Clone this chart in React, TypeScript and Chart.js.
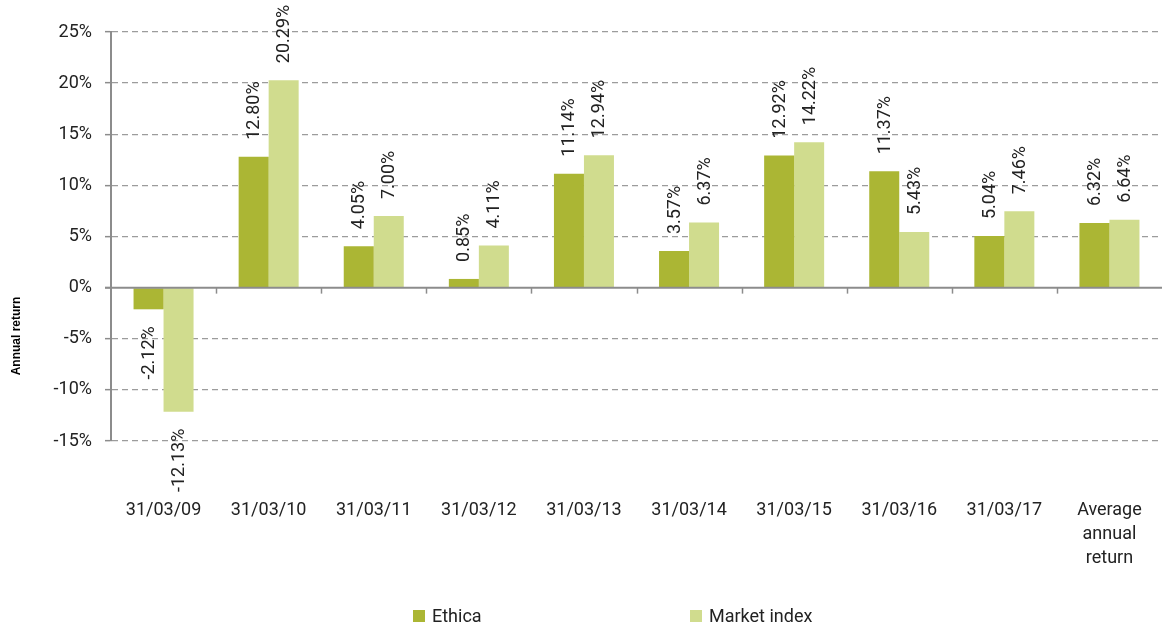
import React, { useEffect, useRef } from "react";
import { Chart, registerables } from "chart.js";

Chart.register(...registerables);

const categories: (string | string[])[] = [
  "31/03/09",
  "31/03/10",
  "31/03/11",
  "31/03/12",
  "31/03/13",
  "31/03/14",
  "31/03/15",
  "31/03/16",
  "31/03/17",
  ["Average", "annual", "return"],
];
const ethica = [-2.12, 12.8, 4.05, 0.85, 11.14, 3.57, 12.92, 11.37, 5.04, 6.32];
const marketIndex = [-12.13, 20.29, 7.0, 4.11, 12.94, 6.37, 14.22, 5.43, 7.46, 6.64];
const seriesNames = ["Ethica", "Market index"];
const seriesColors = ["#abb634", "#d0dc8e"];
const yMin = -15;
const yMax = 25;
const yStep = 5;
const axisTitle = "Annual return";

const FONT = "Roboto, 'Noto Sans', sans-serif";
const TEXT = "#222222";
const GRID = "#9c9c9c";
const AXIS = "#8c8c8c";

const decorPlugin = {
  id: "decor",
  afterDatasetsDraw(chart: any) {
    const { ctx, chartArea, scales } = chart;
    const y = scales.y;
    const y0 = y.getPixelForValue(0);
    ctx.save();
    // zero line
    ctx.strokeStyle = AXIS;
    ctx.lineWidth = 2;
    ctx.setLineDash([]);
    ctx.beginPath();
    ctx.moveTo(chartArea.left - 6, y0);
    ctx.lineTo(chartArea.right, y0);
    ctx.stroke();
    // category boundary ticks on zero line
    const n = categories.length;
    const w = (chartArea.right - chartArea.left) / n;
    ctx.lineWidth = 1.5;
    for (let i = 1; i < n; i++) {
      const px = Math.round(chartArea.left + i * w) + 0.5;
      ctx.beginPath();
      ctx.moveTo(px, y0);
      ctx.lineTo(px, y0 + 6);
      ctx.stroke();
    }
    // data labels
    ctx.font = `18px ${FONT}`;
    ctx.fillStyle = TEXT;
    ctx.textBaseline = "middle";
    chart.data.datasets.forEach((ds: any, di: number) => {
      const meta = chart.getDatasetMeta(di);
      meta.data.forEach((el: any, i: number) => {
        const v = ds.data[i];
        const txt = v.toFixed(2) + "%";
        ctx.save();
        if (v >= 0) {
          ctx.translate(el.x, el.y - 17);
          ctx.rotate(-Math.PI / 2);
          ctx.textAlign = "left";
        } else {
          ctx.translate(el.x, el.y + 17);
          ctx.rotate(-Math.PI / 2);
          ctx.textAlign = "right";
        }
        ctx.fillText(txt, 0, 1);
        ctx.restore();
      });
    });
    ctx.restore();
  },
  afterDraw(chart: any) {
    const { ctx } = chart;
    ctx.save();
    // axis title
    ctx.font = `bold 12px 'Liberation Sans', Arial, sans-serif`;
    ctx.fillStyle = "#000";
    ctx.textAlign = "center";
    ctx.textBaseline = "middle";
    ctx.translate(17, 336);
    ctx.rotate(-Math.PI / 2);
    ctx.fillText(axisTitle, 0, 0);
    ctx.restore();
    // legend
    ctx.save();
    ctx.font = `18px ${FONT}`;
    ctx.textBaseline = "middle";
    ctx.textAlign = "left";
    const legendX = [413, 690];
    const legendY = 616;
    seriesNames.forEach((name, i) => {
      ctx.fillStyle = seriesColors[i];
      ctx.fillRect(legendX[i], legendY - 6, 12, 12);
      ctx.fillStyle = TEXT;
      ctx.fillText(name, legendX[i] + 19, legendY + 1);
    });
    ctx.restore();
  },
};

export default function App() {
  const canvasRef = useRef<HTMLCanvasElement | null>(null);

  useEffect(() => {
    let chart: Chart | null = null;
    let cancelled = false;
    const make = () => {
      if (cancelled || !canvasRef.current) return;
      chart = new Chart(canvasRef.current, {
        type: "bar",
        data: {
          labels: categories as any,
          datasets: [
            {
              label: seriesNames[0],
              data: ethica,
              backgroundColor: seriesColors[0],
              borderWidth: 0,
              categoryPercentage: 0.571,
              barPercentage: 1,
            },
            {
              label: seriesNames[1],
              data: marketIndex,
              backgroundColor: seriesColors[1],
              borderWidth: 0,
              categoryPercentage: 0.571,
              barPercentage: 1,
            },
          ],
        },
        options: {
          animation: false,
          responsive: true,
          maintainAspectRatio: false,
          layout: { padding: { top: 32, right: 0, bottom: 0, left: 0 } },
          plugins: {
            legend: { display: false },
            tooltip: { enabled: false },
            title: { display: false },
          },
          scales: {
            x: {
              offset: true,
              grid: { display: false, drawTicks: true, tickLength: 58 },
              border: { display: false },
              ticks: {
                color: TEXT,
                font: { family: FONT, size: 18, lineHeight: 1.32 },
                padding: 0,
                maxRotation: 0,
                autoSkip: false,
              },
              afterFit: (s: any) => {
                s.height = 185;
                s.paddingLeft = 0;
                s.paddingRight = 0;
              },
            },
            y: {
              min: yMin,
              max: yMax,
              ticks: {
                stepSize: yStep,
                color: TEXT,
                font: { family: FONT, size: 18 },
                padding: 13,
                callback: (v: any) => `${v}%`,
              },
              grid: {
                color: (c: any) => (c.tick && c.tick.value === 0 ? "rgba(0,0,0,0)" : GRID),
                lineWidth: 1.3,
                tickLength: 6,
                tickColor: AXIS,
                tickWidth: 1.5,
              },
              border: { display: true, color: AXIS, width: 2, dash: [6, 4] },
              afterFit: (s: any) => {
                s.width = 111;
              },
            },
          },
        },
        plugins: [decorPlugin],
      });
    };
    const fontsApi = (document as any).fonts;
    if (fontsApi && fontsApi.load) {
      Promise.all([
        fontsApi.load(`18px Roboto`),
        fontsApi.load(`bold 12px 'Liberation Sans'`),
      ])
        .catch(() => null)
        .then(make);
    } else {
      make();
    }
    return () => {
      cancelled = true;
      if (chart) chart.destroy();
    };
  }, []);

  return (
    <div style={{ position: "absolute", left: 0, top: 0, width: 1162, height: 626, background: "#fff" }}>
      <canvas ref={canvasRef} />
    </div>
  );
}
